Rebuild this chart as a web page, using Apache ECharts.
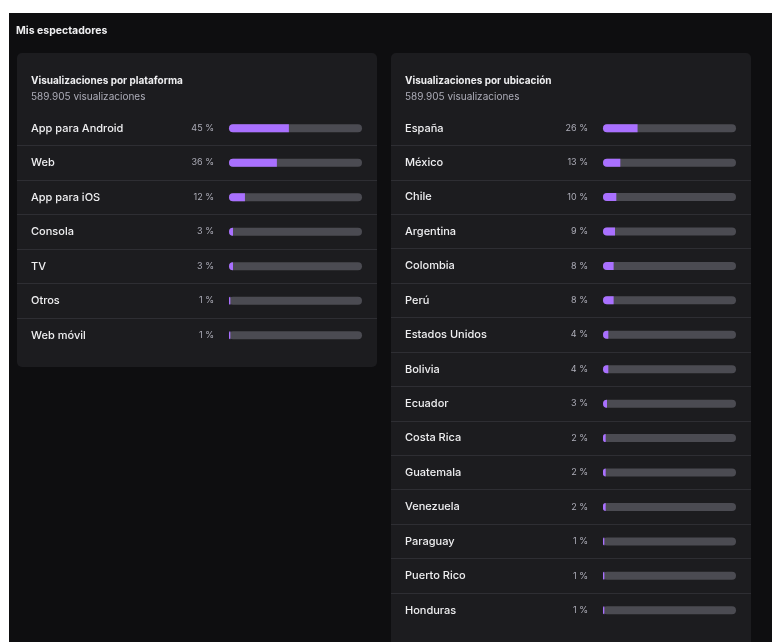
<!DOCTYPE html>
<html>
<head>
<meta charset="utf-8">
<script src="https://cdn.jsdelivr.net/npm/echarts@6/dist/echarts.min.js"></script>
<style>
  html, body { margin: 0; padding: 0; background: #fff; }
  #main { width: 772px; height: 642px; }
</style>
</head>
<body>
<div id="main"></div>
<script>
// datos: visualizaciones por plataforma
var platforms = ['App para Android', 'Web', 'App para iOS', 'Consola', 'TV', 'Otros', 'Web móvil'];
var platformPct = [45, 36, 12, 3, 3, 1, 1];
// datos: visualizaciones por ubicación
var countries = ['España', 'México', 'Chile', 'Argentina', 'Colombia', 'Perú', 'Estados Unidos', 'Bolivia',
    'Ecuador', 'Costa Rica', 'Guatemala', 'Venezuela', 'Paraguay', 'Puerto Rico', 'Honduras'];
var countryPct = [26, 13, 10, 9, 8, 8, 4, 4, 3, 2, 2, 2, 1, 1, 1];
var totalViews = '589.905 visualizaciones';
var fullScale = 100;

var purple = '#a970ff';
var track = '#4b4b52';
var cardBg = '#1c1c1f';
var pageBg = '#0e0e10';

// medidas de la tarjeta (px): la barra empieza a 212px del borde y mide 133px
var cardW = 360, barOffset = 212, barLen = 133;
var pxPerUnit = barLen / fullScale;
var xMin = -barOffset / pxPerUnit;
var xMax = xMin + cardW / pxPerUnit;

function makeX(idx) {
    return {
        gridIndex: idx, type: 'value', min: xMin, max: xMax,
        show: false, splitLine: { show: false }
    };
}
function makeY(idx, cats) {
    return {
        gridIndex: idx, type: 'category', data: cats, inverse: true,
        axisLine: { show: false, onZero: false },
        axisTick: { show: false },
        axisLabel: {
            inside: true, margin: 14, interval: 0, color: '#efeff1',
            fontSize: 11, fontWeight: 500, fontFamily: 'Inter', align: 'left'
        },
        splitLine: {
            show: true, interval: 0, showMinLine: false, showMaxLine: false,
            lineStyle: { color: '#2e2e33', width: 1 }
        }
    };
}
function trackSeries(idx, vals) {
    return {
        type: 'bar', xAxisIndex: idx, yAxisIndex: idx, silent: true,
        barWidth: 8, barGap: '-100%',
        itemStyle: { color: track, borderRadius: 4 },
        data: vals.map(function () { return fullScale; })
    };
}
function fillSeries(idx, vals) {
    return {
        type: 'bar', xAxisIndex: idx, yAxisIndex: idx, silent: true,
        barWidth: 8, barGap: '-100%',
        itemStyle: { color: purple, borderRadius: [4, 0, 0, 4] },
        label: {
            show: true, position: 'left', distance: 15, formatter: '{c} %',
            color: '#adadb8', fontSize: 9, fontFamily: 'Inter'
        },
        data: vals
    };
}

var myChart = echarts.init(document.getElementById('main'));
var option = {
    backgroundColor: '#ffffff',
    animation: false,
    graphic: [
        { type: 'rect', z: -10, shape: { x: 9, y: 13, width: 763, height: 629 }, style: { fill: pageBg } },
        { type: 'rect', z: -9, shape: { x: 17, y: 53, width: cardW, height: 314, r: 5 }, style: { fill: cardBg } },
        { type: 'rect', z: -9, shape: { x: 391, y: 53, width: cardW, height: 620, r: 5 }, style: { fill: cardBg } }
    ],
    title: [
        {
            text: 'Mis espectadores', left: 11, top: 20,
            textStyle: { color: '#efeff1', fontSize: 10.5, fontWeight: 'bold', fontFamily: 'Inter' }
        },
        {
            text: 'Visualizaciones por plataforma', subtext: totalViews, left: 26, top: 71, itemGap: 6,
            textStyle: { color: '#efeff1', fontSize: 10, fontWeight: 'bold', fontFamily: 'Inter' },
            subtextStyle: { color: '#adadb8', fontSize: 10, fontFamily: 'Inter' }
        },
        {
            text: 'Visualizaciones por ubicación', subtext: totalViews, left: 400, top: 71, itemGap: 6,
            textStyle: { color: '#efeff1', fontSize: 10, fontWeight: 'bold', fontFamily: 'Inter' },
            subtextStyle: { color: '#adadb8', fontSize: 10, fontFamily: 'Inter' }
        }
    ],
    grid: [
        { left: 17, top: 111, width: cardW, height: 34.5 * platforms.length },
        { left: 391, top: 111, width: cardW, height: 34.43 * countries.length }
    ],
    xAxis: [makeX(0), makeX(1)],
    yAxis: [makeY(0, platforms), makeY(1, countries)],
    series: [
        trackSeries(0, platformPct), fillSeries(0, platformPct),
        trackSeries(1, countryPct), fillSeries(1, countryPct)
    ]
};
myChart.setOption(option);
</script>
</body>
</html>
